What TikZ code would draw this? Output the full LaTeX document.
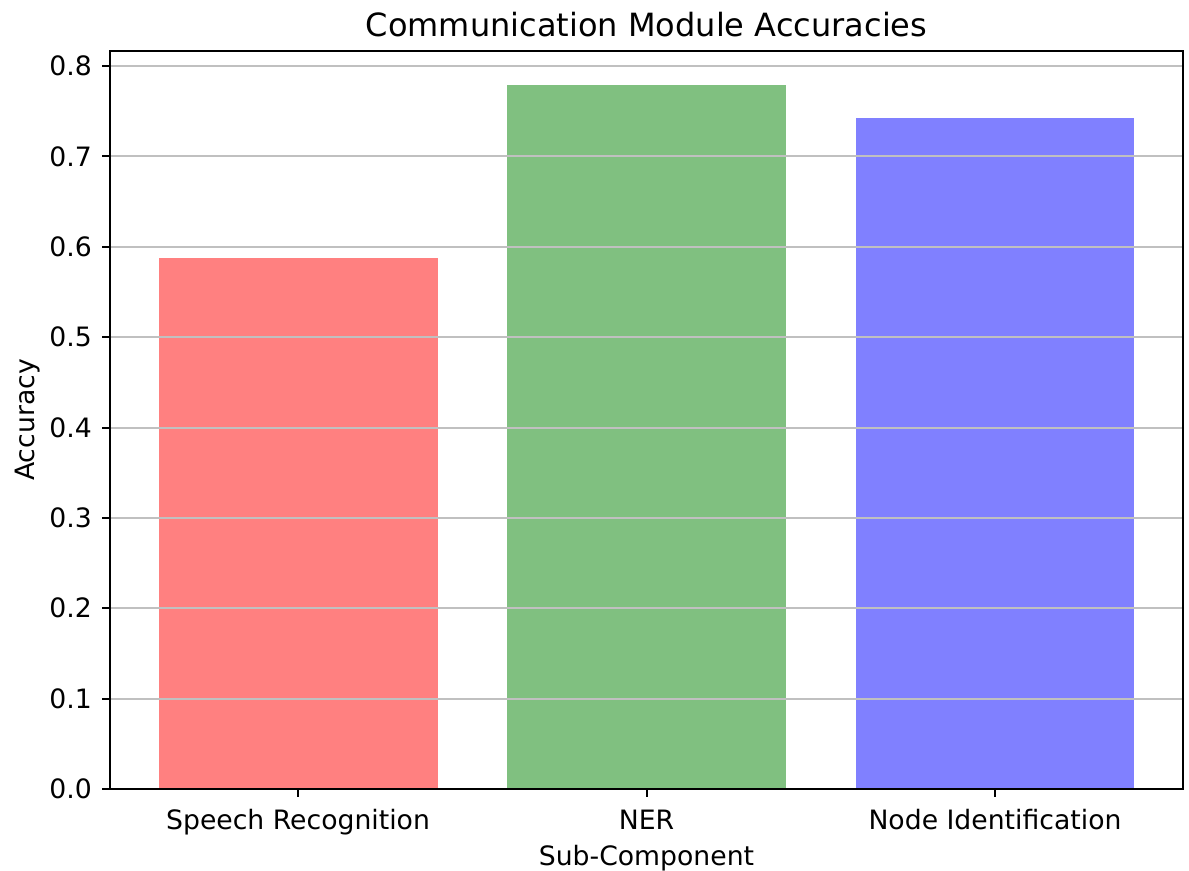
\documentclass[tikz,border=0pt]{standalone}
\usepackage{fontspec}
\setmainfont{DejaVu Sans}
\definecolor{barred}{HTML}{FF8080}
\definecolor{bargreen}{HTML}{80C080}
\definecolor{barblue}{HTML}{8080FF}
\definecolor{gridgray}{HTML}{C0C0C0}
\begin{document}
\begin{tikzpicture}[x=0.75pt,y=-0.75pt,
  bar/.style={draw=none},
  gridline/.style={draw=gridgray,line width=1.5pt},
  spine/.style={draw=black,line width=1.5pt},
  tickmark/.style={draw=black,line width=1.5pt},
  ticklab/.style={font=\fontsize{20pt}{24pt}\selectfont,inner sep=0pt},
  axlab/.style={font=\fontsize{20pt}{24pt}\selectfont,inner sep=0pt},
  titlelab/.style={font=\fontsize{24pt}{28pt}\selectfont,inner sep=0pt}]
\useasboundingbox (0,0) rectangle (1189,871);
% bars
\fill[barred] (158.8,789) rectangle (437.5,258.0);
\fill[bargreen] (507.2,789) rectangle (785.9,85.0);
\fill[barblue] (855.6,789) rectangle (1134.3,118.3);
% grid
\foreach \i in {1,...,8} {
  \draw[gridline] (110,{789-90.375*\i}) -- (1183,{789-90.375*\i});
}
% y ticks
\foreach \i/\lab in {0/0.0,1/0.1,2/0.2,3/0.3,4/0.4,5/0.5,6/0.6,7/0.7,8/0.8} {
  \draw[tickmark] (102,{789-90.375*\i}) -- (110,{789-90.375*\i});
  \node[ticklab,anchor=east] (yt\i) at (92,{789-90.375*\i}) {\lab};
}
% x ticks
\foreach \x/\lab/\n in {298/Speech Recognition/a,646.5/NER/b,995/Node Identification/c} {
  \draw[tickmark] (\x,789) -- (\x,797);
  \node[ticklab,anchor=base] (xt\n) at (\x,829) {\lab};
}
% spines
\draw[spine] (110,51) rectangle (1183,789);
% labels
\node[titlelab,anchor=base] (title) at (646.5,36) {Communication Module Accuracies};
\node[axlab,anchor=base,rotate=90] (ylab) at (34,420) {Accuracy};
\node[axlab,anchor=base] (xlab) at (646.5,865) {Sub-Component};
\end{tikzpicture}
\end{document}
